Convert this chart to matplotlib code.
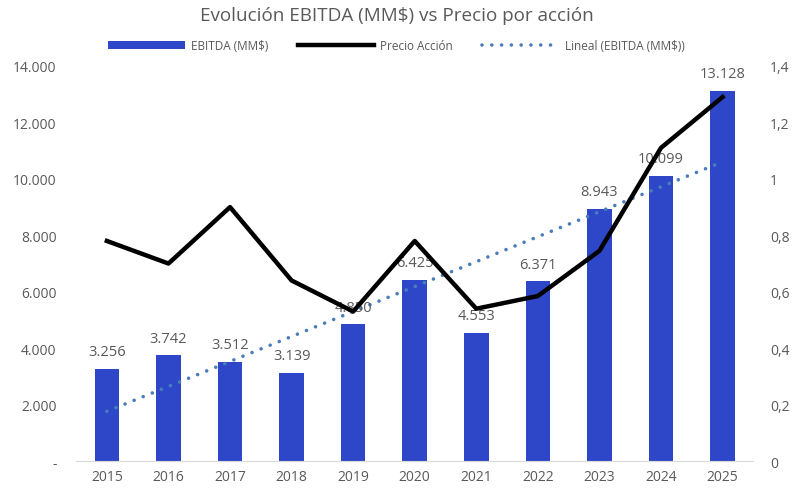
import numpy as np
import matplotlib.pyplot as plt

years = ["2015", "2016", "2017", "2018", "2019", "2020", "2021", "2022", "2023", "2024", "2025"]
ebitda = [3256, 3742, 3512, 3139, 4850, 6425, 4553, 6371, 8943, 10099, 13128]
precio = [0.78, 0.70, 0.90, 0.64, 0.53, 0.78, 0.54, 0.585, 0.745, 1.11, 1.29]
left_ticks = [0, 2000, 4000, 6000, 8000, 10000, 12000, 14000]
right_ticks = [0, 0.2, 0.4, 0.6, 0.8, 1.0, 1.2, 1.4]

plt.rcParams['font.family'] = ['Open Sans', 'DejaVu Sans']
gray = "#595959"

fig = plt.figure(figsize=(7.93, 4.89), dpi=100)
ax = fig.add_axes([0.096, 0.055, 0.854, 0.808])
ax2 = ax.twinx()

x = np.arange(len(years))
bars = ax.bar(x, ebitda, width=0.4, color="#2e47c9", zorder=2, label="EBITDA (MM$)")

# linear trendline like Excel's
slope, intercept = np.polyfit(x, ebitda, 1)
trend = slope * x + intercept
ax.plot(x, trend, linestyle=(0, (0.01, 2.7)), dash_capstyle="round", color="#4a7ebb",
        linewidth=2.6, zorder=3, label="Lineal (EBITDA (MM$))")

for xi, v in zip(x, ebitda):
    ax.annotate(f"{v:,}".replace(",", "."), (xi, v), xytext=(0, 7), textcoords="offset points",
                ha="center", va="bottom", fontsize=10.5, color=gray, zorder=4)

ln, = ax2.plot(x, precio, color="black", linewidth=3.2, zorder=5, label="Precio Acción")

ax.set_xlim(-0.5, len(years) - 0.5)
ax.set_ylim(0, 14000)
ax2.set_ylim(0, 1.4)
ax.set_yticks(left_ticks)
ax.set_yticklabels(["-"] + [f"{t:,}".replace(",", ".") for t in left_ticks[1:]])
ax2.set_yticks(right_ticks)
ax2.set_yticklabels(["0", "0,2", "0,4", "0,6", "0,8", "1", "1,2", "1,4"])
ax.set_xticks(x)
ax.set_xticklabels(years)

for a in (ax, ax2):
    for s in ("top", "left", "right"):
        a.spines[s].set_visible(False)
    a.spines["bottom"].set_color("#d9d9d9")
    a.tick_params(length=0, labelsize=10, colors=gray)
ax2.spines["bottom"].set_visible(False)
ax.tick_params(axis="x", pad=6)
ax.tick_params(axis="y", pad=14)
ax2.tick_params(axis="y", pad=12)

ax2.set_zorder(ax.get_zorder() + 1)
ax2.patch.set_visible(False)

fig.suptitle("Evolución EBITDA (MM$) vs Precio por acción", y=0.985, fontsize=13.6, color=gray)
handles = [bars, ln, ax.lines[0]]
fig.legend(handles, [h.get_label() for h in handles], loc="center", bbox_to_anchor=(0.5, 0.905),
           ncol=3, frameon=False, fontsize=8.5, labelcolor=gray, handlelength=6.5, columnspacing=2.5,
           handletextpad=0.5)

fig.savefig("out.png", dpi=100)
